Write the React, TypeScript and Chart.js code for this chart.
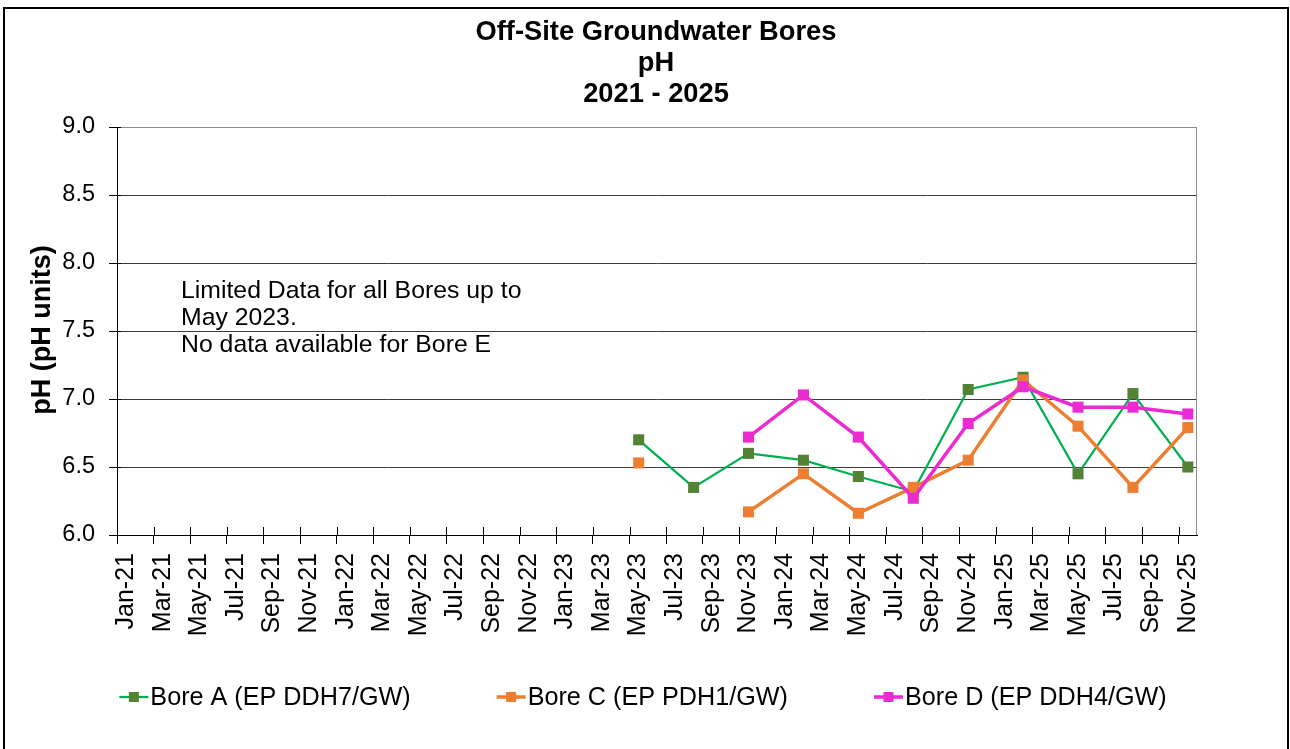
import React, { useEffect, useRef } from 'react';
import { Chart, registerables } from 'chart.js';

Chart.register(...registerables);

// ---------- data ----------
const tickLabels = [
  'Jan-21', 'Mar-21', 'May-21', 'Jul-21', 'Sep-21', 'Nov-21',
  'Jan-22', 'Mar-22', 'May-22', 'Jul-22', 'Sep-22', 'Nov-22',
  'Jan-23', 'Mar-23', 'May-23', 'Jul-23', 'Sep-23', 'Nov-23',
  'Jan-24', 'Mar-24', 'May-24', 'Jul-24', 'Sep-24', 'Nov-24',
  'Jan-25', 'Mar-25', 'May-25', 'Jul-25', 'Sep-25', 'Nov-25',
];
const sampleMonths = ['May-23', 'Aug-23', 'Nov-23', 'Feb-24', 'May-24', 'Aug-24', 'Nov-24', 'Feb-25', 'May-25', 'Aug-25', 'Nov-25'];
const boreA = [6.70, 6.35, 6.60, 6.55, 6.43, 6.32, 7.07, 7.16, 6.45, 7.04, 6.50];
const boreC = [6.53, null, 6.17, 6.45, 6.16, 6.35, 6.55, 7.14, 6.80, 6.35, 6.79];
const boreD = [null, null, 6.72, 7.03, 6.72, 6.27, 6.82, 7.09, 6.94, 6.94, 6.89];
const seriesNames = ['Bore A (EP DDH7/GW)', 'Bore C (EP PDH1/GW)', 'Bore D (EP DDH4/GW)'];
const yTicks = [6.0, 6.5, 7.0, 7.5, 8.0, 8.5, 9.0];
const titleLines = ['Off-Site Groundwater Bores', 'pH', '2021 - 2025'];
const noteLines = ['Limited Data for all Bores up to', 'May 2023.', 'No data available for Bore E'];
const yTitle = 'pH (pH units)';

const MONTHS = ['Jan', 'Feb', 'Mar', 'Apr', 'May', 'Jun', 'Jul', 'Aug', 'Sep', 'Oct', 'Nov', 'Dec'];
function monthIndex(label: string): number {
  const [m, y] = label.split('-');
  return (parseInt(y, 10) - 21) * 12 + MONTHS.indexOf(m);
}
const toPoints = (vals: (number | null)[]) =>
  sampleMonths.map((m, i) => ({ x: monthIndex(m) + 0.5, y: vals[i] }));

const FONT = '"Liberation Sans", Arial, sans-serif';

const styles = [
  { line: '#00B050', marker: '#548235', width: 2.25 },
  { line: '#ED7D31', marker: '#ED7D31', width: 3.5 },
  { line: '#EB2BD2', marker: '#EB2BD2', width: 3.5 },
];

const decorPlugin = {
  id: 'decor',
  beforeDatasetsDraw(chart: any) {
    const { ctx, chartArea: ca, scales } = chart;
    ctx.save();
    ctx.lineWidth = 1;
    ctx.strokeStyle = '#8c8c8c';
    ctx.beginPath();
    ctx.moveTo(ca.left, Math.round(ca.top) + 0.5);
    ctx.lineTo(Math.round(ca.right) - 0.5, Math.round(ca.top) + 0.5);
    ctx.lineTo(Math.round(ca.right) - 0.5, ca.bottom);
    ctx.stroke();
    ctx.strokeStyle = '#000';
    ctx.beginPath();
    scales.x.ticks.forEach((t: any) => {
      const px = Math.round(scales.x.getPixelForValue(t.value)) + 0.5;
      ctx.moveTo(px, ca.bottom);
      ctx.lineTo(px, ca.bottom - 8);
    });
    scales.y.ticks.forEach((t: any) => {
      const py = Math.round(scales.y.getPixelForValue(t.value)) + 0.5;
      ctx.moveTo(ca.left, py);
      ctx.lineTo(ca.left + 4, py);
    });
    ctx.stroke();
    ctx.restore();
  },
  afterDraw(chart: any) {
    const { ctx } = chart;
    ctx.save();
    // outer border
    ctx.strokeStyle = '#000';
    ctx.lineWidth = 2;
    ctx.strokeRect(4, 8, 1284, 760);

    // title
    ctx.fillStyle = '#000';
    ctx.textAlign = 'center';
    ctx.textBaseline = 'alphabetic';
    ctx.font = `bold 27.3px ${FONT}`;
    const titleBase = [40, 70.5, 101.5];
    titleLines.forEach((t, i) => ctx.fillText(t, 656, titleBase[i]));

    // y-axis title
    ctx.save();
    ctx.translate(43, 330);
    ctx.rotate(-Math.PI / 2);
    ctx.textBaseline = 'middle';
    ctx.font = `bold 27px ${FONT}`;
    ctx.fillText(yTitle, 0, 0);
    ctx.restore();

    // note
    ctx.textAlign = 'left';
    ctx.font = `24.8px ${FONT}`;
    const noteBase = [298, 325, 352];
    noteLines.forEach((t, i) => ctx.fillText(t, 181, noteBase[i]));

    // legend
    ctx.font = `25.2px ${FONT}`;
    ctx.textBaseline = 'middle';
    const markerW = 31;
    const gap = 86;
    const widths = seriesNames.map((n) => markerW + ctx.measureText(n).width);
    const total = widths.reduce((a, b) => a + b, 0) + gap * (widths.length - 1);
    let x0 = 643 - total / 2;
    const ly = 697;
    chart.data.datasets.forEach((ds: any, i: number) => {
      const st = styles[i];
      ctx.strokeStyle = st.line;
      ctx.lineWidth = st.width;
      ctx.beginPath();
      ctx.moveTo(x0, ly);
      ctx.lineTo(x0 + 29, ly);
      ctx.stroke();
      ctx.fillStyle = st.marker;
      ctx.fillRect(x0 + 9.5, ly - 5, 10, 10);
      ctx.fillStyle = '#000';
      ctx.fillText(ds.label, x0 + markerW, ly + 1);
      x0 += widths[i] + gap;
    });
    ctx.restore();
  },
};

export default function App() {
  const ref = useRef<HTMLCanvasElement | null>(null);
  useEffect(() => {
    document.body.style.margin = '0';
    const canvas = ref.current;
    if (!canvas) return;
    const seriesData = [boreA, boreC, boreD];
    const chart = new Chart(canvas, {
      type: 'line',
      data: {
        datasets: seriesData.map((vals, i) => ({
          label: seriesNames[i],
          data: toPoints(vals),
          borderColor: styles[i].line,
          borderWidth: styles[i].width,
          backgroundColor: styles[i].marker,
          pointBackgroundColor: styles[i].marker,
          pointBorderWidth: 0,
          pointStyle: 'rect',
          pointRadius: 7.8,
          pointHoverRadius: 7.8,
          tension: 0,
          spanGaps: false,
          order: 3 - i,
        })),
      },
      plugins: [decorPlugin],
      options: {
        animation: false,
        responsive: false,
        maintainAspectRatio: false,
        events: [],
        layout: { padding: { top: 127, left: 0, right: 93, bottom: 0 } },
        plugins: {
          legend: { display: false },
          title: { display: false },
          tooltip: { enabled: false },
        },
        scales: {
          x: {
            type: 'linear',
            min: 0,
            max: 59,
            afterFit: (s: any) => { s.height = 214; },
            afterBuildTicks: (s: any) => {
              s.ticks = tickLabels.map((_, i) => ({ value: i * 2 }));
            },
            ticks: {
              autoSkip: false,
              maxRotation: 90,
              minRotation: 90,
              padding: 9,
              labelOffset: 9,
              color: '#000',
              font: { family: FONT, size: 25 },
              callback: (v: any) => tickLabels[Math.round(Number(v) / 2)] ?? '',
            },
            grid: {
              display: true,
              drawOnChartArea: false,
              drawTicks: true,
              tickLength: 9,
              tickColor: '#000',
              color: '#000',
            },
            border: { display: true, color: '#000', width: 1 },
          },
          y: {
            min: 6,
            max: 9,
            afterFit: (s: any) => { s.width = 117; },
            afterBuildTicks: (s: any) => {
              s.ticks = yTicks.map((v) => ({ value: v }));
            },
            ticks: {
              padding: 14,
              color: '#000',
              font: { family: FONT, size: 23.5 },
              callback: (v: any) => Number(v).toFixed(1),
            },
            grid: {
              drawTicks: true,
              tickLength: 8,
              tickColor: '#000',
              color: (c: any) => (c.tick && c.tick.value === 9 ? '#8c8c8c' : '#3c3c3c'),
              lineWidth: 1,
            },
            border: { display: true, color: '#000', width: 1 },
          },
        },
      } as any,
    });
    return () => chart.destroy();
  }, []);
  return (
    <div style={{ width: 1290, height: 749, background: '#fff' }}>
      <canvas ref={ref} width={1290} height={749} style={{ display: 'block' }} />
    </div>
  );
}
